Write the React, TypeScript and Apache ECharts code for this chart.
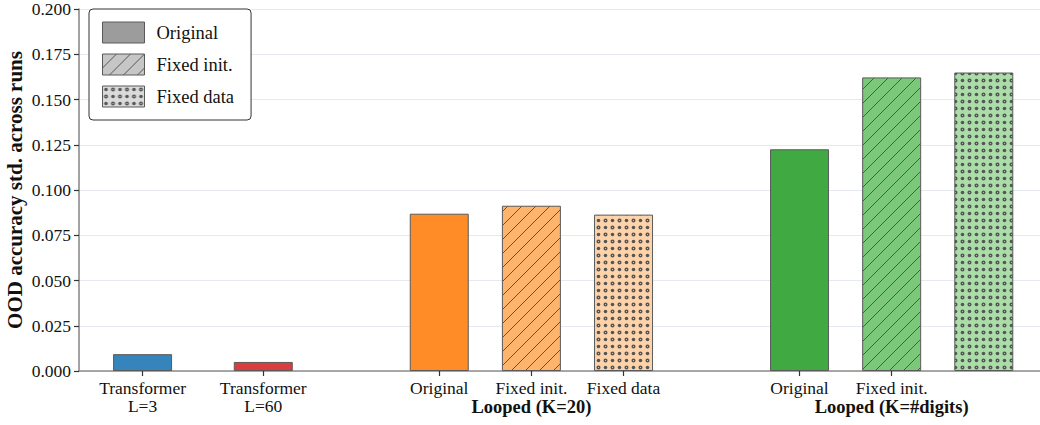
import React, { useEffect, useRef } from "react";
import * as echarts from "echarts";

// ---- data ----
const tickLabels = [
  "Transformer\nL=3",
  "Transformer\nL=60",
  "Original",
  "Fixed init.",
  "Fixed data",
  "Original",
  "Fixed init.",
  "Fixed data",
];
const slotX = [0.02, 1.33, 3.24, 4.24, 5.24, 7.15, 8.15, 9.15];
const values = [0.0093, 0.005, 0.0869, 0.0913, 0.0864, 0.1225, 0.1622, 0.1649];
const variantOf = [0, 0, 0, 1, 2, 0, 1, 2];
const familyOf = ["blue", "red", "orange", "orange", "orange", "green", "green", "green"];
const groupLabels = ["", "", "", "Looped (K=20)", "", "", "Looped (K=#digits)", ""];
const seriesNames = ["Original", "Fixed init.", "Fixed data"];
const yTicks = { min: 0, max: 0.2, step: 0.025 };

// ---- styles ----
const FONT = "'Liberation Serif', 'Times New Roman', serif";
const EDGE = "#5a5a5a";
const palette: Record<string, string[]> = {
  blue: ["#3584bb", "#79b1d9", "#aacbe6"],
  red: ["#da3d3e", "#e67d7e", "#f0aeae"],
  orange: ["#ff8c26", "#ffb46e", "#ffd3aa"],
  green: ["#41a941", "#7cc87b", "#aadda8"],
  gray: ["#9c9c9c", "#c6c6c6", "#dadada"],
};

function makePattern(bg: string, kind: number): any {
  if (kind === 0) return bg;
  const s = 14;
  const c = document.createElement("canvas");
  c.width = s;
  c.height = s;
  const ctx = c.getContext("2d")!;
  ctx.fillStyle = bg;
  ctx.fillRect(0, 0, s, s);
  ctx.strokeStyle = "#555";
  ctx.fillStyle = "#555";
  if (kind === 1) {
    ctx.lineWidth = 1;
    ctx.beginPath();
    ctx.moveTo(0, s);
    ctx.lineTo(s, 0);
    ctx.moveTo(-2, 2);
    ctx.lineTo(2, -2);
    ctx.moveTo(s - 2, s + 2);
    ctx.lineTo(s + 2, s - 2);
    ctx.stroke();
  } else {
    const h = s / 2;
    const pts = [
      [h / 2, h / 2, 0],
      [h / 2 + h, h / 2, 1],
      [h / 2, h / 2 + h, 1],
      [h / 2 + h, h / 2 + h, 0],
    ];
    pts.forEach(([x, y, ring]) => {
      ctx.beginPath();
      if (ring) {
        ctx.lineWidth = 1.5;
        ctx.arc(x, y, 1.3, 0, Math.PI * 2);
        ctx.stroke();
      } else {
        ctx.arc(x, y, 1.8, 0, Math.PI * 2);
        ctx.fill();
      }
    });
  }
  return { image: c.toDataURL(), repeat: "repeat", imageWidth: s, imageHeight: s };
}

function labelFor(v: number): string {
  let best = 0;
  for (let i = 1; i < slotX.length; i++) {
    if (Math.abs(slotX[i] - v) < Math.abs(slotX[best] - v)) best = i;
  }
  const g = groupLabels[best];
  return g ? `${tickLabels[best]}\n{g|${g}}` : tickLabels[best];
}

export default function App() {
  const ref = useRef<HTMLDivElement>(null);
  useEffect(() => {
    if (!ref.current) return;
    const chart = echarts.init(ref.current, undefined, { renderer: "svg" });

    const series = seriesNames.map((name, k) => ({
      name,
      type: "bar",
      barWidth: 59,
      barGap: "-100%",
      itemStyle: {
        color: makePattern(palette.gray[k], k),
        borderColor: EDGE,
        borderWidth: 1,
      },
      emphasis: { disabled: true },
      data: values
        .map((v, i) => ({ i, v }))
        .filter((d) => variantOf[d.i] === k)
        .map((d) => ({
          value: [slotX[d.i], d.v],
          itemStyle: {
            color: makePattern(palette[familyOf[d.i]][k], k),
            borderColor: EDGE,
            borderWidth: 1,
          },
        })),
    }));

    chart.setOption({
      animation: false,
      textStyle: { fontFamily: FONT },
      grid: { left: 79, right: 0, top: 9, bottom: 54, outerBoundsMode: "none", containLabel: false },
      legend: {
        orient: "vertical",
        left: 89,
        top: 9,
        padding: [12.5, 17, 12.5, 13],
        itemWidth: 42,
        itemHeight: 21,
        itemGap: 10,
        backgroundColor: "#fff",
        borderColor: "#333",
        borderWidth: 1,
        borderRadius: 4,
        icon: "rect",
        textStyle: { fontFamily: FONT, fontSize: 18.5, color: "#111", padding: [0, 0, 0, 7] },
        data: seriesNames.map((name, k) => ({
          name,
          itemStyle: {
            color: makePattern(palette.gray[k], k),
            borderColor: EDGE,
            borderWidth: 1,
          },
        })),
      },
      xAxis: {
        type: "value",
        min: -0.67,
        max: 9.76,
        splitLine: { show: false },
        axisLine: { show: true, onZero: false, lineStyle: { color: "#8c8c8c", width: 1.6 } },
        axisTick: { show: true, customValues: slotX, length: 5, lineStyle: { color: "#333", width: 1.2 } },
        axisLabel: {
          customValues: slotX,
          margin: 8,
          fontFamily: FONT,
          fontSize: 17.5,
          color: "#111",
          lineHeight: 18,
          formatter: (v: number) => labelFor(v),
          rich: {
            g: { fontFamily: FONT, fontSize: 18.5, fontWeight: "bold", color: "#111", lineHeight: 19 },
          },
        },
      },
      yAxis: {
        type: "value",
        min: yTicks.min,
        max: yTicks.max,
        interval: yTicks.step,
        name: "OOD accuracy std. across runs",
        nameLocation: "middle",
        nameGap: 54,
        nameMoveOverlap: false,
        nameTextStyle: { fontFamily: FONT, fontSize: 21, fontWeight: "bold", color: "#111" },
        axisLine: { show: true, onZero: false, lineStyle: { color: "#8c8c8c", width: 1.6 } },
        axisTick: { show: true, length: 5, lineStyle: { color: "#333", width: 1.2 } },
        axisLabel: {
          margin: 8,
          fontFamily: FONT,
          fontSize: 17.5,
          color: "#111",
          formatter: (v: number) => v.toFixed(3),
        },
        splitLine: { show: true, lineStyle: { color: "#e6e9f1", width: 1 } },
      },
      series,
    });
    return () => chart.dispose();
  }, []);
  return (
    <div
      ref={ref}
      style={{ position: "fixed", left: 0, top: 0, width: 1040, height: 425, background: "#fff" }}
    />
  );
}
